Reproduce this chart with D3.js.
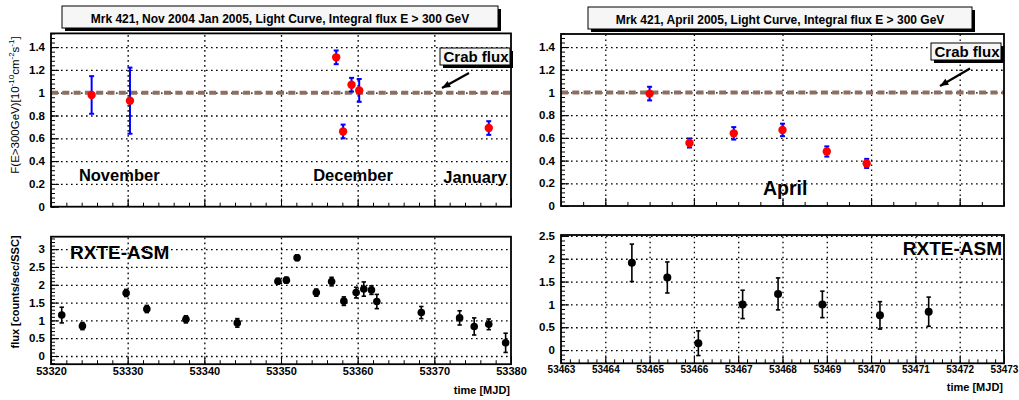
<!DOCTYPE html>
<html>
<head>
<meta charset="utf-8">
<script src="https://cdn.jsdelivr.net/npm/d3@7"></script>
<style>
  body { margin: 0; background: #fff; }
  svg { display: block; font-family: "Liberation Sans", Arial, Helvetica, sans-serif; }
</style>
</head>
<body>
<svg id="chart" width="1019" height="400"></svg>
<script>
// ---------------- DATA ----------------
// Nov 2004 - Jan 2005, integral flux E > 300 GeV (1e-10 cm^-2 s^-1)
const novMJD  = [53325.3, 53330.3, 53357.2, 53358.1, 53359.2, 53360.2, 53377.1];
const novFlux = [0.98, 0.93, 1.31, 0.66, 1.07, 1.02, 0.69];
const novErr  = [0.165, 0.29, 0.06, 0.06, 0.06, 0.10, 0.06];

// April 2005, integral flux E > 300 GeV
const aprMJD  = [53465.0, 53465.9, 53466.9, 53468.0, 53469.0, 53469.9];
const aprFlux = [0.99, 0.555, 0.64, 0.67, 0.48, 0.375];
const aprErr  = [0.06, 0.04, 0.055, 0.055, 0.045, 0.04];

// RXTE-ASM, Nov 2004 - Jan 2005 (counts/sec/SSC)
const asmNovMJD  = [53321.4, 53324.1, 53329.8, 53332.5, 53337.6, 53344.3, 53349.6, 53350.7, 53352.1, 53354.6, 53356.6,
                    53358.2, 53359.8, 53360.8, 53361.8, 53362.5, 53368.3, 53373.3, 53375.2, 53377.1, 53379.3];
const asmNovFlux = [1.15, 0.84, 1.77, 1.32, 1.03, 0.93, 2.10, 2.13, 2.76, 1.78, 2.09,
                    1.54, 1.78, 1.88, 1.85, 1.53, 1.22, 1.07, 0.83, 0.89, 0.37];
const asmNovErr  = [0.22, 0.10, 0.10, 0.10, 0.10, 0.12, 0.08, 0.08, 0.08, 0.10, 0.12,
                    0.12, 0.15, 0.20, 0.12, 0.20, 0.17, 0.20, 0.24, 0.15, 0.27];

// RXTE-ASM, April 2005
const asmAprMJD  = [53464.6, 53465.4, 53466.1, 53467.1, 53467.9, 53468.9, 53470.2, 53471.3];
const asmAprFlux = [1.91, 1.59, 0.15, 1.00, 1.23, 1.00, 0.76, 0.84];
const asmAprErr  = [0.41, 0.34, 0.27, 0.31, 0.35, 0.29, 0.30, 0.32];

// Tick labels
const novXTicks    = [53320, 53330, 53340, 53350, 53360, 53370, 53380];
const aprXTicks    = [53463, 53464, 53465, 53466, 53467, 53468, 53469, 53470, 53471, 53472, 53473];
const aprTopXTicks = [53464, 53466, 53468, 53470, 53472];
const fluxYTicks   = [0, 0.2, 0.4, 0.6, 0.8, 1, 1.2, 1.4];
const asmNovYTicks = [0, 0.5, 1, 1.5, 2, 2.5, 3];
const asmAprYTicks = [0, 0.5, 1, 1.5, 2, 2.5];

const crabFlux = 1;
const titles = ["Mrk 421, Nov 2004 Jan 2005, Light Curve, Integral flux E > 300 GeV",
                "Mrk 421, April 2005, Light Curve, Integral flux E > 300 GeV"];
const monthLabels = ["November", "December", "January"];
const monthMJD = [53328.9, 53359.4, 53375.3];

// ---------------- DRAWING ----------------
const svg = d3.select("#chart");
svg.append("rect").attr("width", 1019).attr("height", 400).attr("fill", "#fff");

const fmt = v => String(+v.toFixed(2));

function range(a, b, s) {
  const n = Math.round((b - a) / s);
  return d3.range(n + 1).map(i => +(a + i * s).toFixed(6));
}

function panel(o) {
  const g = svg.append("g");
  const x = d3.scaleLinear().domain(o.xdom).range([o.x0, o.x1]);
  const y = d3.scaleLinear().domain(o.ydom).range([o.y1, o.y0]);
  const W = o.x1 - o.x0, H = o.y1 - o.y0;

  // grids
  const gx = g.append("g").attr("transform", `translate(0,${o.y1})`)
    .call(d3.axisBottom(x).tickValues(o.xGrid).tickSize(-H).tickFormat(""));
  const gy = g.append("g").attr("transform", `translate(${o.x0},0)`)
    .call(d3.axisLeft(y).tickValues(o.yGrid).tickSize(-W).tickFormat(""));
  [gx, gy].forEach(s => {
    s.select(".domain").remove();
    s.selectAll("line").attr("stroke", "#000").attr("stroke-width", 1.3).attr("stroke-dasharray", "1.6,3.4");
  });

  // minor ticks
  const mx = g.append("g").attr("transform", `translate(0,${o.y1})`)
    .call(d3.axisBottom(x).tickValues(o.xMinor).tickSize(-4).tickFormat(""));
  const my = g.append("g").attr("transform", `translate(${o.x0},0)`)
    .call(d3.axisLeft(y).tickValues(o.yMinor).tickSize(-4).tickFormat(""));
  // major ticks with labels
  const ax = g.append("g").attr("transform", `translate(0,${o.y1})`)
    .call(d3.axisBottom(x).tickValues(o.xMajor).tickSize(-8).tickPadding(3)
      .tickFormat(o.xLabels ? d => String(d) : ""));
  const ay = g.append("g").attr("transform", `translate(${o.x0},0)`)
    .call(d3.axisLeft(y).tickValues(o.yMajor).tickSize(-8).tickPadding(6).tickFormat(fmt));
  [mx, my, ax, ay].forEach(s => {
    s.select(".domain").remove();
    s.selectAll("line").attr("stroke", "#000").attr("stroke-width", 1);
    s.selectAll("text").attr("fill", "#000").attr("font-size", 11.5).attr("font-weight", "bold")
      .attr("font-family", "Liberation Sans, Arial, sans-serif");
  });
  ax.selectAll("text").attr("font-size", o.xFont);

  // clip
  const cid = "clip" + Math.round(o.x0) + Math.round(o.y0);
  svg.append("clipPath").attr("id", cid).append("rect")
    .attr("x", o.x0).attr("y", o.y0).attr("width", W).attr("height", H);
  const inner = g.append("g").attr("clip-path", `url(#${cid})`);

  if (o.crab) {
    inner.append("line").attr("x1", o.x0).attr("x2", o.x1)
      .attr("y1", y(crabFlux)).attr("y2", y(crabFlux))
      .attr("stroke", "#8b7062").attr("stroke-width", 4).attr("stroke-dasharray", "7,4.3");
  }

  // error bars and markers
  const pts = o.xs.map((v, i) => ({x: v, y: o.ys[i], e: o.es[i]}));
  const eg = g.append("g").attr("stroke", o.errColor).attr("stroke-width", o.errWidth);
  pts.forEach(p => {
    eg.append("line").attr("x1", x(p.x)).attr("x2", x(p.x)).attr("y1", y(p.y - p.e)).attr("y2", y(p.y + p.e));
    [p.y - p.e, p.y + p.e].forEach(v =>
      eg.append("line").attr("x1", x(p.x) - o.cap).attr("x2", x(p.x) + o.cap).attr("y1", y(v)).attr("y2", y(v)));
  });
  g.append("g").selectAll("circle").data(pts).join("circle")
    .attr("cx", p => x(p.x)).attr("cy", p => y(p.y)).attr("r", o.r).attr("fill", o.markColor);

  // frame
  g.append("rect").attr("x", o.x0).attr("y", o.y0).attr("width", W).attr("height", H)
    .attr("fill", "none").attr("stroke", "#000").attr("stroke-width", 1.8);
  return {g, x, y};
}

function paveBox(x, y, w, h, text, size, tx, ty) {
  svg.append("rect").attr("x", x + 3).attr("y", y + 3).attr("width", w).attr("height", h).attr("fill", "#000");
  svg.append("rect").attr("x", x).attr("y", y).attr("width", w).attr("height", h)
    .attr("fill", "#f6f6f6").attr("stroke", "#000").attr("stroke-width", 1);
  svg.append("text").attr("x", tx).attr("y", ty).attr("text-anchor", "middle")
    .attr("font-size", size).attr("font-weight", "bold").attr("fill", "#000").text(text);
}

function arrow(x1, y1, x2, y2) {
  svg.append("line").attr("x1", x1).attr("y1", y1).attr("x2", x2).attr("y2", y2)
    .attr("stroke", "#000").attr("stroke-width", 2.2);
  const a = Math.atan2(y2 - y1, x2 - x1), L = 9, s = 0.4;
  const p = [[x2, y2],
             [x2 - L * Math.cos(a - s), y2 - L * Math.sin(a - s)],
             [x2 - L * Math.cos(a + s), y2 - L * Math.sin(a + s)]];
  svg.append("path").attr("d", d3.line()(p) + "Z").attr("fill", "#000");
}

// ---- top-left
const tl = panel({
  x0: 51, x1: 511, y0: 33.4, y1: 206.7, xdom: [53320, 53380], ydom: [0, 1.52],
  xGrid: novXTicks.slice(1, -1), yGrid: fluxYTicks.slice(1),
  xMajor: novXTicks, xMinor: range(53320, 53380, 2), yMajor: fluxYTicks, yMinor: range(0, 1.52, 0.04),
  xLabels: false, xFont: 11, crab: true,
  xs: novMJD, ys: novFlux, es: novErr, errColor: "#0000ff", errWidth: 2, cap: 2.5, r: 4.2, markColor: "#ff0000"
});
// ---- top-right
const tr = panel({
  x0: 561, x1: 1004, y0: 34, y1: 206, xdom: [53463, 53473], ydom: [0, 1.515],
  xGrid: aprTopXTicks, yGrid: fluxYTicks.slice(1),
  xMajor: aprTopXTicks, xMinor: range(53463, 53473, 0.5), yMajor: fluxYTicks, yMinor: range(0, 1.5, 0.04),
  xLabels: false, xFont: 10, crab: true,
  xs: aprMJD, ys: aprFlux, es: aprErr, errColor: "#0000ff", errWidth: 2, cap: 2.5, r: 4.2, markColor: "#ff0000"
});
// ---- bottom-left
const bl = panel({
  x0: 51, x1: 511, y0: 236.7, y1: 364.2, xdom: [53320, 53380], ydom: [-0.23, 3.35],
  xGrid: novXTicks.slice(1, -1), yGrid: asmNovYTicks,
  xMajor: novXTicks, xMinor: range(53320, 53380, 2), yMajor: asmNovYTicks, yMinor: range(-0.2, 3.3, 0.1),
  xLabels: true, xFont: 11, crab: false,
  xs: asmNovMJD, ys: asmNovFlux, es: asmNovErr, errColor: "#000", errWidth: 1.6, cap: 2.2, r: 3.8, markColor: "#000"
});
// ---- bottom-right
const br = panel({
  x0: 561, x1: 1004, y0: 235, y1: 363.3, xdom: [53463, 53473], ydom: [-0.29, 2.52],
  xGrid: aprXTicks.slice(1, -1), yGrid: asmAprYTicks,
  xMajor: aprXTicks, xMinor: range(53463, 53473, 0.2), yMajor: asmAprYTicks, yMinor: range(-0.2, 2.5, 0.1),
  xLabels: true, xFont: 10, crab: false,
  xs: asmAprMJD, ys: asmAprFlux, es: asmAprErr, errColor: "#000", errWidth: 1.6, cap: 2.2, r: 4, markColor: "#000"
});

// titles
paveBox(62, 6, 436, 22, titles[0], 12, 280, 22.5);
paveBox(588, 7, 384, 22, titles[1], 12, 780, 23.5);

// crab flux labels
paveBox(440, 48, 70, 17, "Crab flux", 15, 476, 62);
arrow(469, 73, 442, 88);
paveBox(931, 43, 70, 17, "Crab flux", 15, 967, 57);
arrow(970, 68.5, 940, 86);

// month labels
const monthG = svg.append("g").attr("font-weight", "bold").attr("font-size", 16.5).attr("text-anchor", "middle").attr("fill", "#000");
monthG.append("text").attr("x", tl.x(monthMJD[0])).attr("y", 181).text(monthLabels[0]);
monthG.append("text").attr("x", tl.x(monthMJD[1])).attr("y", 181).text(monthLabels[1]);
monthG.append("text").attr("x", tl.x(monthMJD[2])).attr("y", 183).text(monthLabels[2]);
svg.append("text").attr("x", tr.x(53468.06)).attr("y", 195).attr("text-anchor", "middle")
  .attr("font-weight", "bold").attr("font-size", 19.5).text("April");

// RXTE-ASM labels
svg.append("text").attr("x", 70).attr("y", 259).attr("font-weight", "bold").attr("font-size", 19).text("RXTE-ASM");
svg.append("text").attr("x", 1002).attr("y", 254.5).attr("text-anchor", "end").attr("font-weight", "bold").attr("font-size", 19).text("RXTE-ASM");

// axis titles
const yt = svg.append("text").attr("transform", "translate(19,105) rotate(-90)")
  .attr("text-anchor", "middle").attr("font-size", 11.5).attr("fill", "#000");
yt.append("tspan").text("F(E>300GeV)[10");
yt.append("tspan").attr("dy", -5).attr("font-size", 8).text("-10");
yt.append("tspan").attr("dy", 5).text("cm");
yt.append("tspan").attr("dy", -5).attr("font-size", 8).text("-2");
yt.append("tspan").attr("dy", 5).text("s");
yt.append("tspan").attr("dy", -5).attr("font-size", 8).text("-1");
yt.append("tspan").attr("dy", 5).text("]");

svg.append("text").attr("transform", "translate(19,292) rotate(-90)")
  .attr("text-anchor", "middle").attr("font-size", 11).attr("font-weight", "bold").text("flux [counts/sec/SSC]");

svg.append("text").attr("x", 510).attr("y", 394).attr("text-anchor", "end")
  .attr("font-size", 11).attr("font-weight", "bold").text("time [MJD]");
svg.append("text").attr("x", 1003).attr("y", 391).attr("text-anchor", "end")
  .attr("font-size", 11).attr("font-weight", "bold").text("time [MJD]");
</script>
</body>
</html>
